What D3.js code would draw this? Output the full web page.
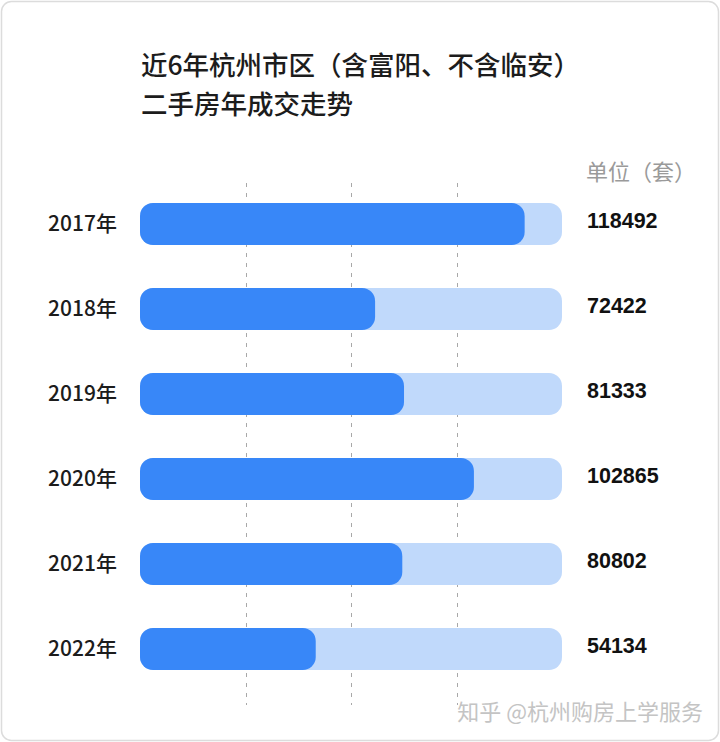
<!DOCTYPE html>
<html>
<head>
<meta charset="utf-8">
<script src="https://cdn.jsdelivr.net/npm/d3@7"></script>
<style>
  html, body { margin: 0; padding: 0; background: #ffffff; }
  svg { display: block; }
</style>
</head>
<body>
<svg id="chart" width="720" height="742"></svg>
<script>
const titleLines = ["近6年杭州市区（含富阳、不含临安）", "二手房年成交走势"];
const unitLabel = "单位（套）";
const years = ["2017年", "2018年", "2019年", "2020年", "2021年", "2022年"];
const values = [118492, 72422, 81333, 102865, 80802, 54134];
const domainMax = 130000;
const gridValues = [32500, 65000, 97500];
const watermark = "知乎 @杭州购房上学服务";

const svg = d3.select("#chart");
const W = 720, H = 742;

// card
svg.append("rect")
  .attr("x", 1.5).attr("y", 1.5)
  .attr("width", W - 3).attr("height", H - 3)
  .attr("rx", 10)
  .attr("fill", "#ffffff")
  .attr("stroke", "#dcdcdc")
  .attr("stroke-width", 1.5);

// title
const cjk = "'Noto Sans CJK SC', 'Noto Sans', sans-serif";
svg.append("g").selectAll("text")
  .data(titleLines)
  .join("text")
  .attr("x", 141)
  .attr("y", (d, i) => 75 + i * 39)
  .attr("font-family", cjk)
  .attr("font-size", 26.5)
  .attr("font-weight", 500)
  .attr("fill", "#1c1c1c")
  .text(d => d);

// scales
const x = d3.scaleLinear().domain([0, domainMax]).range([140, 562]);
const y = d3.scaleBand().domain(years).range([181.5, 691.5])
  .paddingInner(0.5).paddingOuter(0.25);

// gridlines
svg.append("g").selectAll("line")
  .data(gridValues)
  .join("line")
  .attr("x1", d => Math.round(x(d)) + 0.5)
  .attr("x2", d => Math.round(x(d)) + 0.5)
  .attr("y1", 183)
  .attr("y2", 705)
  .attr("stroke", "#a8a8a8")
  .attr("stroke-width", 1)
  .attr("stroke-dasharray", "4,6");

const barH = 42;
const r = 13;
const rows = svg.append("g").selectAll("g")
  .data(years.map((yr, i) => ({ yr, v: values[i] })))
  .join("g");

// track
rows.append("rect")
  .attr("x", x(0))
  .attr("y", d => y(d.yr) + y.bandwidth() / 2 - barH / 2)
  .attr("width", x(domainMax) - x(0))
  .attr("height", barH)
  .attr("rx", r)
  .attr("fill", "#c0d9fb");

// value bar
rows.append("rect")
  .attr("x", x(0))
  .attr("y", d => y(d.yr) + y.bandwidth() / 2 - barH / 2)
  .attr("width", d => x(d.v) - x(0))
  .attr("height", barH)
  .attr("rx", r)
  .attr("fill", "#3887f8");

// year labels
rows.append("text")
  .attr("x", 117)
  .attr("y", d => y(d.yr) + y.bandwidth() / 2)
  .attr("dy", "0.35em")
  .attr("text-anchor", "end")
  .attr("font-family", cjk)
  .attr("font-size", 21)
  .attr("font-weight", 500)
  .attr("fill", "#1c1c1c")
  .text(d => d.yr);

// values
rows.append("text")
  .attr("x", 587)
  .attr("y", d => y(d.yr) + y.bandwidth() / 2 - 4)
  .attr("dy", "0.35em")
  .attr("font-family", "'Liberation Sans', Arial, sans-serif")
  .attr("font-size", 21.5)
  .attr("font-weight", 700)
  .attr("fill", "#111111")
  .text(d => d3.format("d")(d.v));

// unit label
svg.append("text")
  .attr("x", 586)
  .attr("y", 172)
  .attr("dy", "0.35em")
  .attr("font-family", cjk)
  .attr("font-size", 22)
  .attr("fill", "#9a9a9a")
  .text(unitLabel);

// watermark
svg.append("text")
  .attr("x", 703)
  .attr("y", 712)
  .attr("dy", "0.35em")
  .attr("text-anchor", "end")
  .attr("font-family", cjk)
  .attr("font-size", 22)
  .attr("fill", "#c4c4c4")
  .attr("stroke", "#ffffff")
  .attr("stroke-width", 3)
  .attr("paint-order", "stroke")
  .text(watermark);
</script>
</body>
</html>
